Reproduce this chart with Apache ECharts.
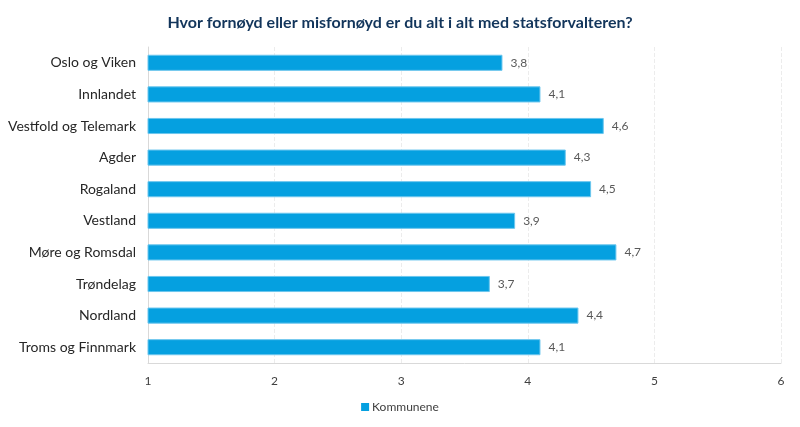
<!DOCTYPE html>
<html>
<head>
<meta charset="utf-8">
<script src="https://cdn.jsdelivr.net/npm/echarts@6/dist/echarts.min.js"></script>
<style>html,body{margin:0;padding:0;background:#fff}#c{width:800px;height:427px}</style>
</head>
<body>
<div id="c"></div>
<script>
const categories = ["Oslo og Viken","Innlandet","Vestfold og Telemark","Agder","Rogaland","Vestland","Møre og Romsdal","Trøndelag","Nordland","Troms og Finnmark"];
const values = [3.8, 4.1, 4.6, 4.3, 4.5, 3.9, 4.7, 3.7, 4.4, 4.1];
const seriesName = "Kommunene";
const titleText = "Hvor fornøyd eller misfornøyd er du alt i alt med statsforvalteren?";

const chart = echarts.init(document.getElementById('c'), null, {renderer:'canvas'});
const font = 'Lato, "Open Sans", sans-serif';
chart.setOption({
  animation:false,
  textStyle:{fontFamily:font},
  title:{text:titleText,left:'center',top:10,textStyle:{fontFamily:font,fontSize:16,fontWeight:'bold',color:'#12355b'}},
  legend:{bottom:9,left:'center',itemWidth:8,itemHeight:8,itemGap:4,icon:'rect',itemStyle:{borderWidth:0},textStyle:{fontFamily:font,fontSize:12,color:'#404040',padding:[0,0,0,-2]},data:[seriesName]},
  grid:{left:148,right:19,top:47,bottom:64,containLabel:false},
  xAxis:{type:'value',min:1,max:6,interval:1,
    axisLine:{show:true,lineStyle:{color:'#d9d9d9'}},
    axisTick:{show:false},
    axisLabel:{color:'#404040',fontSize:12,margin:12,formatter:v=>String(v)},
    splitLine:{show:true,lineStyle:{color:'#ececec',type:'dashed'}}},
  yAxis:{type:'category',inverse:true,data:categories,
    axisLine:{show:true,lineStyle:{color:'#d9d9d9'}},
    axisTick:{show:false},
    axisLabel:{color:'#262626',fontSize:14,margin:12}},
  series:[{name:seriesName,type:'bar',data:values,barWidth:'51%',
    itemStyle:{color:'#05a0e0',borderColor:'#6cc6ee',borderWidth:1},
    label:{show:true,position:'right',distance:8,color:'#595959',fontSize:12,formatter:p=>String(p.value).replace('.',',')}}]
});
</script>
</body>
</html>
